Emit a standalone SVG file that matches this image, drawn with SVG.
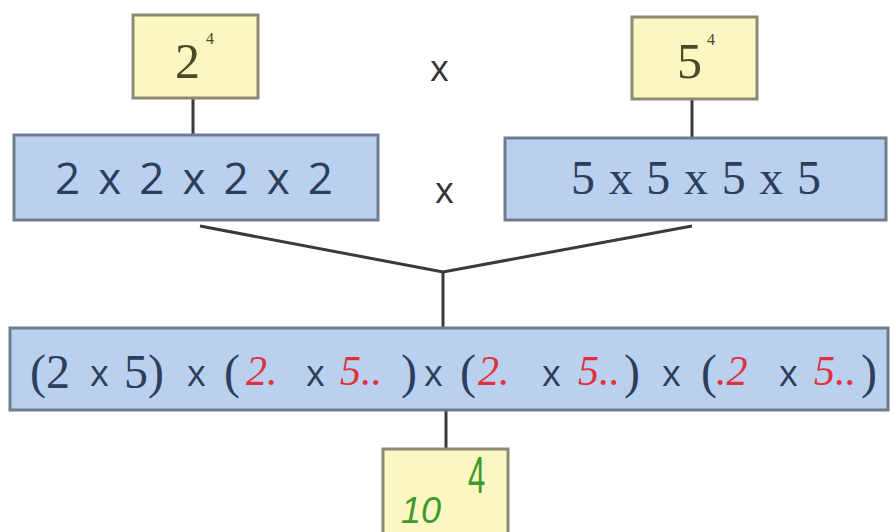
<svg xmlns="http://www.w3.org/2000/svg" width="890" height="532" viewBox="0 0 890 532">
<style>
.yb{fill:#fbf7c2;stroke:#8c8a74;stroke-width:3}
.bb{fill:#b9d0ee;stroke:#6f7c8e;stroke-width:3}
.ln{stroke:#3a3a3a;stroke-width:3;fill:none}
.ser{font-family:"Liberation Serif","DejaVu Serif",serif;fill:#2c3e5c}
.san{font-family:"Open Sans","Liberation Sans",sans-serif;fill:#2c3e5c}
.top{font-family:"Liberation Serif",serif;fill:#4a4a28}
.red{font-family:"Liberation Serif",serif;font-style:italic;fill:#e0303c}
.grn{font-family:"Liberation Sans",sans-serif;fill:#3f9a2c}
.op{font-family:"Open Sans","Liberation Sans",sans-serif;fill:#333;font-size:36px}
</style>
<rect width="890" height="532" fill="#ffffff"/>
<g id="connectors">
<line class="ln" x1="193" y1="98" x2="193" y2="135"/>
<line class="ln" x1="692" y1="99" x2="692" y2="138"/>
<polyline class="ln" points="200,226 443,272 692,226"/>
<line class="ln" x1="443" y1="272" x2="443" y2="328"/>
<line class="ln" x1="446" y1="410" x2="446" y2="449"/>
</g>
<g id="n-2pow4">
<rect class="yb" x="133" y="15" width="125" height="83"/>
<text class="top" x="175" y="78" font-size="50">2</text>
<text class="top" x="206" y="44" font-size="16">4</text>
</g>
<g id="n-5pow4">
<rect class="yb" x="632" y="17" width="125" height="82"/>
<text class="top" x="677" y="78" font-size="50">5</text>
<text class="top" x="707" y="45" font-size="16">4</text>
</g>
<g id="op-top"><text class="op" x="430" y="81">x</text></g>
<g id="n-2222">
<rect class="bb" x="14" y="135" width="364" height="85"/>
<text class="san" x="55" y="194" font-size="44" textLength="278" lengthAdjust="spacing">2 x 2 x 2 x 2</text>
</g>
<g id="op-mid"><text class="op" x="435" y="203">x</text></g>
<g id="n-5555">
<rect class="bb" x="505" y="138" width="381" height="82"/>
<text class="ser" x="571" y="194" font-size="48" textLength="250" lengthAdjust="spacing">5 x 5 x 5 x 5</text>
</g>
<g id="n-product">
<rect class="bb" x="10" y="328" width="878" height="82"/>
<text class="ser" font-size="48" y="388">
<tspan x="30">(2</tspan><tspan x="124">5)</tspan><tspan x="224">(</tspan>
<tspan x="401">)</tspan><tspan x="460">(</tspan>
<tspan x="624">)</tspan><tspan x="701">(</tspan>
<tspan x="861">)</tspan>
</text>
<text class="san" font-size="36" y="386">
<tspan x="90">x</tspan><tspan x="187">x</tspan><tspan x="306">x</tspan><tspan x="424">x</tspan>
<tspan x="542">x</tspan><tspan x="662">x</tspan><tspan x="779">x</tspan>
</text>
<text class="red" font-size="42" y="385">
<tspan x="246">2.</tspan><tspan x="340">5..</tspan><tspan x="478">2.</tspan><tspan x="578">5..</tspan><tspan x="716">.2</tspan><tspan x="814">5..</tspan>
</text>
</g>
<g id="n-10pow4">
<rect class="yb" x="383" y="449" width="125" height="90"/>
<text class="grn" x="401" y="523" font-size="36" font-style="italic">10</text>
<text class="grn" x="468" y="493" font-size="52" transform="translate(468 493) scale(0.6 1) translate(-468 -493)">4</text>
</g>
</svg>
